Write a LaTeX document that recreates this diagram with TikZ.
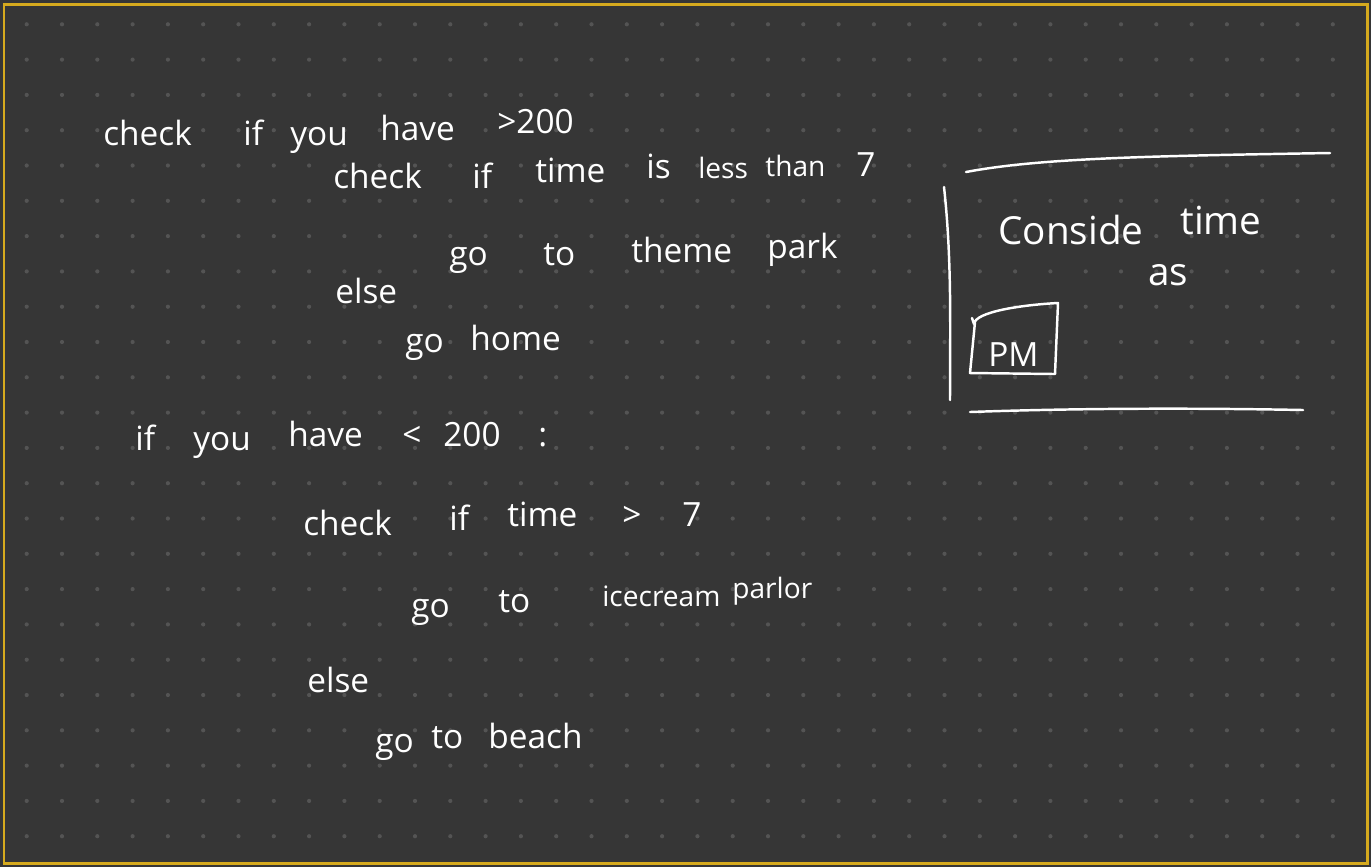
\documentclass[tikz,border=0pt]{standalone}
\usepackage{fontspec}
\setmainfont{Open Sans}
\usepackage{tikz}
\definecolor{board}{RGB}{54,54,54}
\definecolor{boarddot}{RGB}{84,84,84}
\definecolor{frame}{RGB}{214,170,30}

\begin{document}
\begin{tikzpicture}[
    x=0.02cm, y=-0.02cm,
    every node/.style={text=white, inner sep=0pt, anchor=base west,
                       font=\fontsize{19}{22}\selectfont},
    small word/.style={font=\fontsize{16}{19}\selectfont},
    big word/.style={font=\fontsize{22}{26}\selectfont},
    ink/.style={draw=white, line width=1.4pt, line cap=round, line join=round},
  ]

  % board, frame and dot grid
  \fill[board] (0,0) rectangle (1371,867);
  \foreach \i in {0,...,37}
    \foreach \j in {0,...,23}
      \fill[boarddot] (26.7+35.3*\i, 24.3+35.3*\j) circle (2.1);
  \draw[frame, line width=1.7pt] (4,4) rectangle (1367,863);

  % money > 200
  \node (chk1) at (103, 145) {check};
  \node (if1)  at (243, 145) {if};
  \node (you1) at (290, 145) {you};
  \node (hav1) at (380, 140) {have};
  \node (gt1)  at (497, 133) {>200};

  \node (chk2) at (333, 188) {check};
  \node (if2)  at (472, 188) {if};
  \node (tim2) at (535, 182) {time};
  \node (is2)  at (646, 178) {is};
  \node[small word] (les2) at (698, 178) {less};
  \node[small word] (tha2) at (765, 176) {than};
  \node (sev2) at (856, 176) {7};

  \node (go3)  at (449, 265) {go};
  \node (to3)  at (543, 265) {to};
  \node (thm3) at (631, 262) {theme};
  \node (prk3) at (767, 258) {park};

  \node (els4) at (335, 303) {else};
  \node (go5)  at (405, 352) {go};
  \node (hom5) at (470, 350) {home};

  % money < 200
  \node (if6)  at (135, 450) {if};
  \node (you6) at (193, 450) {you};
  \node (hav6) at (288, 446) {have};
  \node (lt6)  at (402, 446) {<};
  \node (num6) at (443, 446) {200};
  \node (col6) at (538, 446) {:};

  \node (chk7) at (303, 535) {check};
  \node (if7)  at (449, 530) {if};
  \node (tim7) at (507, 526) {time};
  \node (gt7)  at (622, 526) {>};
  \node (sev7) at (682, 526) {7};

  \node (go8)  at (411, 617) {go};
  \node (to8)  at (498, 612) {to};
  \node[small word] (ice8) at (602, 606) {icecream};
  \node[small word] (par8) at (732, 598) {parlor};

  \node (els9) at (307, 692) {else};
  \node (go10) at (375, 752) {go};
  \node (to10) at (431, 748) {to};
  \node (bch10) at (488, 748) {beach};

  % side note
  \node[big word] (cons) at (998, 244) {Conside};
  \node[big word] (tim)  at (1180, 234) {time};
  \node[big word] (as)   at (1148, 285) {as};
  \node (pm)   at (988, 366) {PM};

  \draw[ink] (966,172) .. controls (1040,158) and (1150,156) .. (1330,153);
  \draw[ink] (944,187) .. controls (952,260) and (950,330) .. (950,400);
  \draw[ink] (970,412) .. controls (1080,408) and (1200,408) .. (1303,410);
  \draw[ink] (972,318) -- (974,324) .. controls (975,312) and (1020,305) .. (1058,303)
             -- (1055,374) -- (970,373) -- (975,322);

\end{tikzpicture}
\end{document}
